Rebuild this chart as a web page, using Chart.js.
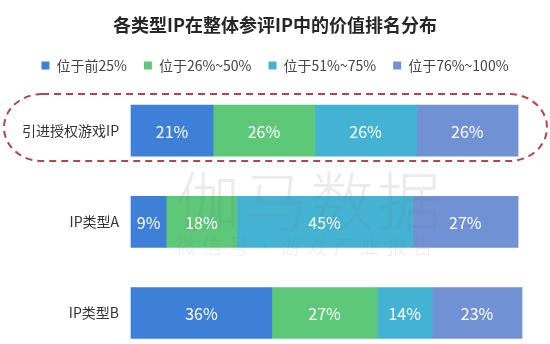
<!DOCTYPE html>
<html>
<head>
<meta charset="utf-8">
<script src="https://cdn.jsdelivr.net/npm/chart.js@4"></script>
<style>
  html, body { margin: 0; padding: 0; background: #fff; }
  #wrap { width: 550px; height: 344px; }
</style>
</head>
<body>
<div id="wrap"><canvas id="ipChart" width="550" height="344"></canvas></div>
<script>
const categories = ["引进授权游戏IP", "IP类型A", "IP类型B"];
const rankGroups = ["位于前25%", "位于26%~50%", "位于51%~75%", "位于76%~100%"];
const top25 = [21, 9, 36];
const rank26to50 = [26, 18, 27];
const rank51to75 = [26, 45, 14];
const rank76to100 = [26, 27, 23];
const groupColors = ["#3e7fd8", "#5cc878", "#44b3d3", "#7191d5"];

const FONT = '"Noto Sans CJK SC", "Noto Sans", sans-serif';

// faint brand watermark across the middle
const watermark = {
  id: 'watermark',
  afterDatasetsDraw(chart) {
    const ctx = chart.ctx;
    ctx.save();
    ctx.textAlign = 'center';
    ctx.textBaseline = 'middle';
    ctx.fillStyle = 'rgba(120,120,120,0.15)';
    ctx.font = '300 64px ' + FONT;
    const big = "伽马数据";
    for (let i = 0; i < big.length; i++) {
      ctx.fillText(big[i], 208 + i * 67, 201);
    }
    ctx.font = '300 20px ' + FONT;
    const small = "微信号·游戏产业报告";
    for (let i = 0; i < small.length; i++) {
      ctx.fillText(small[i], 186 + i * 26.3, 246);
    }
    ctx.restore();
  }
};

// percentage text in the middle of every segment
const barLabels = {
  id: 'barLabels',
  afterDatasetsDraw(chart) {
    const ctx = chart.ctx;
    ctx.save();
    ctx.font = '16px ' + FONT;
    ctx.fillStyle = '#fff';
    ctx.textAlign = 'center';
    ctx.textBaseline = 'middle';
    chart.data.datasets.forEach((ds, i) => {
      chart.getDatasetMeta(i).data.forEach((bar, j) => {
        const p = bar.getProps(['x', 'y', 'base'], true);
        ctx.fillText(ds.data[j] + '%', (p.x + p.base) / 2, p.y + 1);
      });
    });
    ctx.restore();
  }
};

// red dashed capsule round the first row
const highlight = {
  id: 'highlight',
  afterDraw(chart) {
    const ctx = chart.ctx;
    const cy = chart.scales.y.getPixelForValue(0) - 3;
    const x0 = 4, x1 = 547, hh = 33.5;
    const y0 = cy - hh, y1 = cy + hh;
    const rx = 38;
    ctx.save();
    ctx.strokeStyle = '#b3444a';
    ctx.lineWidth = 2;
    ctx.setLineDash([7, 5]);
    ctx.beginPath();
    ctx.moveTo(x0 + rx, y0);
    ctx.lineTo(x1 - rx, y0);
    ctx.ellipse(x1 - rx, cy, rx, hh, 0, -Math.PI / 2, Math.PI / 2);
    ctx.lineTo(x0 + rx, y1);
    ctx.ellipse(x0 + rx, cy, rx, hh, 0, Math.PI / 2, Math.PI * 1.5);
    ctx.closePath();
    ctx.stroke();
    ctx.restore();
  }
};

const series = [top25, rank26to50, rank51to75, rank76to100];

const chrt = document.getElementById("ipChart").getContext("2d");
const chartId = new Chart(chrt, {
  type: 'bar',
  data: {
    labels: categories,
    datasets: series.map((vals, i) => ({
      label: rankGroups[i],
      data: vals,
      backgroundColor: groupColors[i],
      borderWidth: 0,
      barThickness: 51,
      clip: false
    }))
  },
  options: {
    indexAxis: 'y',
    responsive: false,
    animation: false,
    layout: { padding: { top: 0, right: 0, bottom: 31, left: 0 } },
    plugins: {
      title: {
        display: true,
        text: "各类型IP在整体参评IP中的价值排名分布",
        color: '#262626',
        font: { family: FONT, size: 18, weight: 'bold' },
        padding: { top: 14, bottom: 6 }
      },
      legend: {
        position: 'top',
        labels: {
          color: '#444',
          font: { family: FONT, size: 14 },
          boxWidth: 8,
          boxHeight: 8,
          padding: 17
        }
      },
      tooltip: { enabled: false }
    },
    scales: {
      x: {
        stacked: true,
        min: 0,
        max: 100,
        position: 'top',
        grid: { display: false },
        border: { display: false },
        ticks: { display: false },
        afterFit(s) { s.height = 48; }
      },
      y: {
        stacked: true,
        offset: false,
        grid: { display: false },
        border: { display: false },
        ticks: {
          color: '#333',
          font: { family: FONT, size: 14 },
          padding: 4
        },
        afterFit(s) { s.width = 131; }
      },
      // empty right-hand gutter so the title and legend stay centred on the page
      gutter: {
        type: 'category',
        labels: categories,
        position: 'right',
        grid: { display: false },
        border: { display: false },
        ticks: { display: false },
        afterFit(s) { s.width = 28; }
      }
    }
  },
  plugins: [watermark, barLabels, highlight]
});
</script>
</body>
</html>
